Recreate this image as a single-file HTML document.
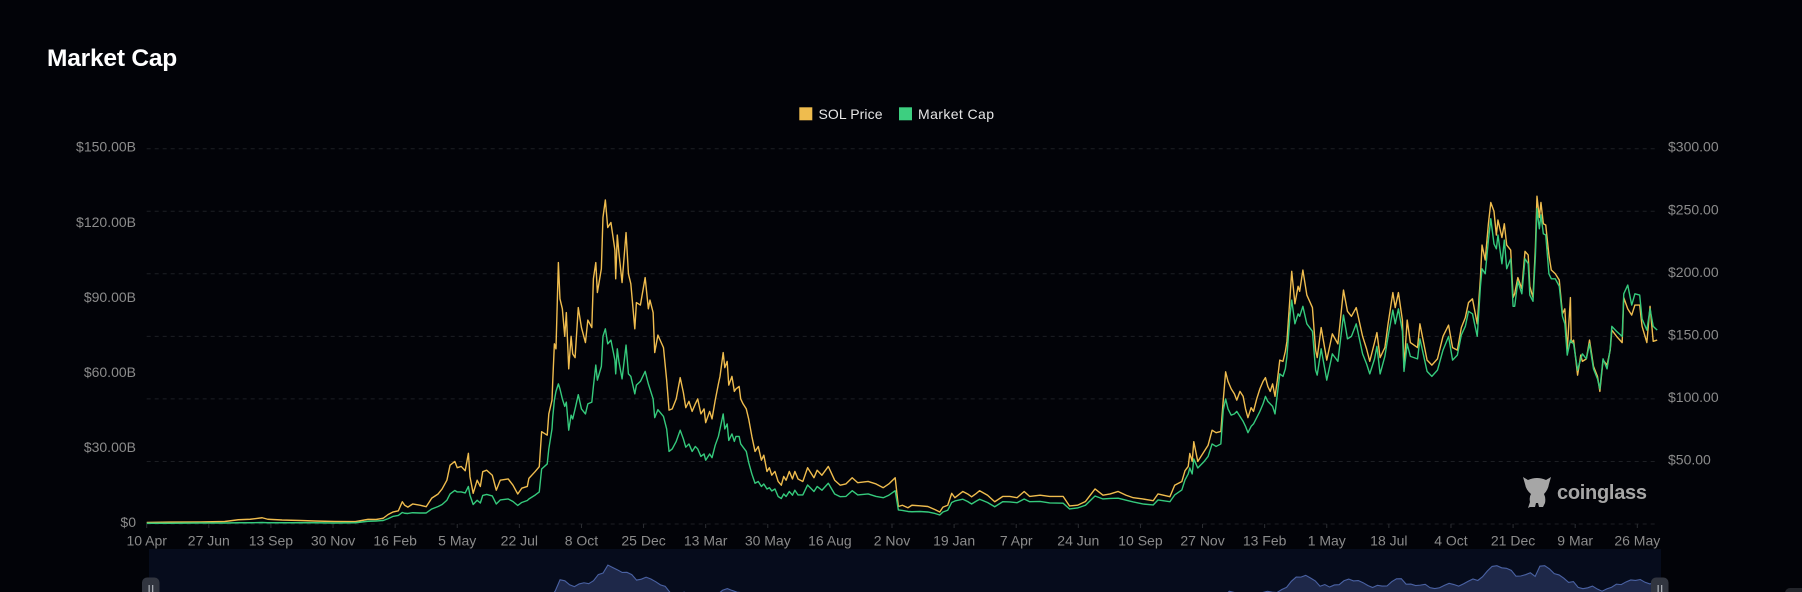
<!DOCTYPE html>
<html lang="en">
<head>
<meta charset="utf-8">
<title>Market Cap</title>
<style>
html,body{margin:0;padding:0;background:#020308;width:1802px;height:592px;overflow:hidden}
#chart-root{position:relative;width:1802px;height:592px;background:#020308;font-family:"Liberation Sans",sans-serif;overflow:hidden}
#chart-title{position:absolute;left:47px;top:44px;font-size:24.5px;line-height:30px;font-weight:bold;color:#fff;letter-spacing:-.2px}
svg{position:absolute;left:0;top:0}
text{font-family:"Liberation Sans",sans-serif}
</style>
</head>
<body>
<div id="chart-root">
  <div id="chart-title">Market Cap</div>
  <svg id="plot" width="1802" height="592" viewBox="0 0 1802 592">
    <g id="grid"></g>
    <g id="left-axis"></g>
    <g id="right-axis"></g>
    <g id="x-axis"></g>
    <g id="series"></g>
    <g>
      <g>
        <rect x="799.3" y="107.3" width="13" height="13" fill="#efbc4e"></rect>
        <text x="818.5" y="118.8" font-size="14" fill="#e6e6e6" textLength="64">SOL Price</text>
      </g>
      <g>
        <rect x="899" y="107.3" width="13" height="13" fill="#3dcf80"></rect>
        <text x="918" y="118.8" font-size="14" fill="#e6e6e6" textLength="76">Market Cap</text>
      </g>
    </g>
    <g>
      <path fill="#a6a6a6" d="M1523 477 L1528 480 Q1537 476 1546 480 L1551 477 L1549 484 Q1548 490 1544 494 Q1546 498 1545 503 L1543 507 L1539 507 L1538 503 L1536 503 L1535 507 L1530 507 L1528 508 L1530 502 Q1529 497 1531 494 Q1526 490 1525 484 Z"></path>
      <text x="1557" y="499" font-size="20" font-weight="bold" fill="#a6a6a6" textLength="90">coinglass</text>
    </g>
    <g id="navigator"></g>
    <rect x="1785" y="588" width="24" height="20" rx="5" fill="#23252b"></rect>
  </svg>
</div>
<script>
var sampleDays = [
0,29,67,98,115,130,145,152,170,193,
211,236,262,270,278,288,297,303,309,316,
321,324,328,334,343,351,358,366,371,377,
381,387,390,395,400,404,406,410,415,419,
422,427,434,439,444,454,460,466,471,478,
480,488,493,496,503,505,509,510,512,514,
517,519,522,525,527,530,533,535,538,542,
546,551,554,559,561,564,566,571,573,576,
579,583,588,589,591,593,597,602,605,608,
613,615,620,626,630,632,636,638,642,649,
653,656,660,665,670,674,677,681,685,689,
692,696,700,702,707,710,714,718,720,724,
726,729,731,735,738,740,744,746,749,753,
756,760,764,768,772,775,779,782,785,789,
793,797,800,803,807,811,814,818,
824,830,838,842,848,856,864,871,878,886,
893,906,916,925,932,940,944,949,956,961,
971,981,990,996,1000,1006,1011,1015,1025,1031,
1036,1041,1046,1056,1065,1075,1084,1093,1102,1109,
1122,1134,1151,1159,1169,1179,1191,1201,1210,1220,
1230,1239,1251,1264,1270,1285,1291,1300,1304,1308,
1310,1313,1315,1320,1328,1333,1338,1343,1349,1352,
1355,1358,1362,1366,1369,1373,1377,1380,1383,1387,
1390,1394,1398,1402,1405,1408,1411,1414,1417,1420,
1423,1427,1430,
1432,1436,1438,1442,1446,1448,1452,1457,1464,1468,
1470,1475,1482,1489,1496,1503,1508,1513,1519,1527,
1532,1536,1542,1545,1549,1555,1559,1565,1568,1572,
1577,1579,1583,1587,1596,1599,1608,1614,1621,1628,
1635,1640,1646,1651,1656,1660,1665,1671,1675,1677,
1681,1685,1688,1692,1695,1697,1702,1705,1708,1713,
1716,1718,1722,1727,1731,1735,1737,1741,1744,1746,
1749,1751,1754,1757,1761,1764,1769,1774,1778,1781,
1784,1788,1789,1792,1797,1801,1803,1808,1812,1817,
1822,1825,1829,1834,1838,1840,1846,1853,1855,1860,
1865,1869,1875,1878,1884,1888,1892,1897
];
var solPrice = [
1.2,1.5,1.6,2.0,3.4,3.8,5.0,3.8,3.2,2.8,
2.4,2.0,1.9,2.8,3.7,3.6,4.6,7.5,9.5,10.5,
17.8,15,13.5,16,15,13.8,20.7,24,28,35,
47,50,45,46,42.6,56.5,37.8,24.5,35,30,
41.8,43,39,27,35,36,31,24,28.6,30,
36.5,42,45.8,73.8,71,88,99,115,144,140,
209,180,172,150,169,124,150,136,133,173,
157,145,163,157,196,209,185,204,245,259,
237,241,219,196,231,217,193,233,200,192,
156,177,175,197,172,179,169,137,151,141,
115,91,92,100,117,105,93,98,90,96,
100,88,92,81,90,84,99,112,118,137,
125,130,111,118,106,108,110,100,96,92,
84,70,58,62,51,55,42,45,39,42,
34,31,38,35,42,36,42,36,
34,45,37,43,39,46,35,31,32,37,
33,34,32,29,32,37,14,15,13,15,
14.5,14,11.5,9.6,13.5,15,24.5,21,26,24,
21.7,24,26.6,23,17.8,22,22,21,26,22,
23,22,22,14.4,15,18,28,23,24,26,
23,21,20,18.6,24,21.8,31,34,42.6,46,
56.4,50,65.8,50,58,63,75,73,74,99,
121.6,114,108,104,99,106,102,92,85,93,
90,100,108,114,117,110,106,112,102,115,
131,130,138,
146,183,202,176,190,186,203,183,173,139,
133,157,131,152,144,187,170,166,173,150,
140,130,145,153,133,141,160,185,173,185,
163,125,163,145,141,160,131,127,132,150,
159,141,139,157,165,177,180,160,197,223,
211,240,257,250,231,243,229,240,223,219,
181,184,197,188,218,215,190,181,221,262,
245,257,240,239,215,203,200,195,168,172,
139,181,145,147,119,135,130,132,147,126,
118,106,131,127,139,155,150,145,181,172,
167,175,175,158,145,174,146,147
];
var marketCap = [
0.3,0.3,0.4,0.4,0.5,0.5,0.6,0.5,0.5,0.5,
0.5,0.4,0.5,0.8,1.1,1.2,1.4,2.1,3.0,3.4,
4.6,4.3,4.2,4.5,4.4,4.4,6,7,7.8,9.5,
12,13.4,12.8,12.8,12.4,15,11.5,7.8,9.5,8.4,
11.4,11.8,11.2,8,9.6,10,9,7.4,8.6,9.4,
10,11.6,12.8,22,24,30,38,43,49.5,53,
56,54,50,47,48.7,37.5,43.5,42,46,51.7,
46,44,48,48.7,55,63.5,57.5,63,75,78,
72,73.5,65.5,60,70,65,58,71.5,60,59,
52,55.5,57,61,56,54,50,42.5,45.7,43,
38,29,30,33,37.5,34,30.7,32,29,31,
30,27,28,25.5,28,26.5,31.5,35,38,44,
38,40,33.4,36,33,35,35,32,30.7,29,
24.6,20,16.3,17,15,16,14,14.5,13.2,14,
11,10.2,12,11,13,11.5,13.5,11.6,
11.6,15.6,13,15,13.5,16.3,12,10.9,11,13.3,
11.6,12,11,10.5,11.5,13.3,5.6,5.4,5,4.9,
5,4.8,4.2,3.6,4.8,5.5,8.6,9.2,9.9,9,
8,9,9.9,8.6,6.9,8.9,8.8,8.5,10,8.9,
9,8.4,8.3,6,6.4,7.5,11.2,10,10.2,10.3,
9.5,8.8,8,7.6,9.6,8.9,11.6,13.6,17.6,20,
22.4,20,26,22.4,25,27,32,31,32,45.5,
50,46,43.5,44,45,43,41,39,36.5,39,
40,42.5,45,48,51,49,48,47,44,52,
60,59,62,
67,84,89.5,80,84,83,87,80,77,61.5,
59.5,70,57.5,68,65,83.5,74,75,80,68,
64,60,66,71,60,67,75,85.5,80,86,
77,61,72,67,66,74,61,59,61.5,69.5,
75,65.5,67.5,75.5,79,85,84,75,95,102,
100,113.5,122,112,110,115.5,104,113.5,102,106,
87,87,97,92,106,104,91.5,89,107,126,
118,123.5,116,115.5,100,98,98,95,83,80,
67.5,73.5,73,72,61.5,66,68,66,72,62,
58,54,66,62,70,79,77,75,92,95.5,
87.5,92,91.5,82,77.5,86,79,77.5
];
var xTickLabels = ["10 Apr","27 Jun","13 Sep","30 Nov","16 Feb","5 May","22 Jul","8 Oct","25 Dec","13 Mar","30 May","16 Aug","2 Nov","19 Jan","7 Apr","24 Jun","10 Sep","27 Nov","13 Feb","1 May","18 Jul","4 Oct","21 Dec","9 Mar","26 May"];
var leftTicks = [0,30,60,90,120,150];
var leftTickLabels = ["$0","$30.00B","$60.00B","$90.00B","$120.00B","$150.00B"];
var rightTicks = [50,100,150,200,250,300];
var rightTickLabels = ["$50.00","$100.00","$150.00","$200.00","$250.00","$300.00"];
var gridTicks = [0,50,100,150,200,250,300];
var xTickStepDays = 78;
var totalDays = 1898;

var NS = 'http://www.w3.org/2000/svg';
var plotLeft = 146.7, plotRight = 1658, plotTop = 148.7, plotBottom = 524;
function xScale(day){ return plotLeft + day / totalDays * (plotRight - plotLeft); }
function yPrice(v){ return plotBottom - v / 300 * (plotBottom - plotTop); }
function yCap(v){ return plotBottom - v / 150 * (plotBottom - plotTop); }
var navLeft = 149, navRight = 1661;
function navX(day){ return navLeft + day / totalDays * (navRight - navLeft); }
function navY(v){ return 613.3 - 0.193 * v; }

function mk(tag, parent, attrs){
  var el = document.createElementNS(NS, tag);
  for (var k in attrs) el.setAttribute(k, attrs[k]);
  parent.appendChild(el);
  return el;
}

var gridG = document.getElementById('grid');
gridTicks.forEach(function(v){
  var ln = mk('line', gridG, {x1: plotLeft, x2: plotRight, y1: yPrice(v), y2: yPrice(v), stroke: '#1d1f24', 'stroke-width': 1, 'stroke-dasharray': '4 4'});
  
  
});

var leftG = document.getElementById('left-axis');
leftTicks.forEach(function(v, i){
  var t = mk('text', leftG, {x: 136, y: yCap(v) + 3, 'text-anchor': 'end', 'font-size': 14, fill: '#8b8b8b'});
  t.textContent = leftTickLabels[i];
  
  
});

var rightG = document.getElementById('right-axis');
rightTicks.forEach(function(v, i){
  var t = mk('text', rightG, {x: 1668, y: yPrice(v) + 3, 'text-anchor': 'start', 'font-size': 14, fill: '#8b8b8b'});
  t.textContent = rightTickLabels[i];
  
  
});

var xG = document.getElementById('x-axis');
xTickLabels.forEach(function(lbl, i){
  var x = xScale(i * xTickStepDays);
  var tick = mk('line', xG, {x1: x, x2: x, y1: plotBottom, y2: plotBottom + 4, stroke: '#2c2e33', 'stroke-width': 1});
  
  
  var t = mk('text', xG, {x: x, y: 545.5, 'text-anchor': 'middle', 'font-size': 14, fill: '#8b8b8b'});
  t.textContent = lbl;
  
  
});

function linePath(values, fx, fy){
  var d = '';
  for (var i = 0; i < values.length; i++) {
    d += (i ? 'L' : 'M') + fx(sampleDays[i]).toFixed(2) + ' ' + fy(values[i]).toFixed(2);
  }
  return d;
}

var seriesG = document.getElementById('series');
var priceLine = mk('path', seriesG, {d: linePath(solPrice, xScale, yPrice), fill: 'none', stroke: '#efbc4e', 'stroke-width': 1.4, 'stroke-linejoin': 'round'});


var capLine = mk('path', seriesG, {d: linePath(marketCap, xScale, yCap), fill: 'none', stroke: '#35c97c', 'stroke-width': 1.4, 'stroke-linejoin': 'round'});



/* navigator shows a down-sampled view of the price series */
function priceAt(day){
  for (var i = 1; i < sampleDays.length; i++) {
    if (day <= sampleDays[i]) {
      var t = (day - sampleDays[i-1]) / (sampleDays[i] - sampleDays[i-1]);
      return solPrice[i-1] + t * (solPrice[i] - solPrice[i-1]);
    }
  }
  return solPrice[solPrice.length - 1];
}
var navPath = '';
for (var nd = 0; nd <= sampleDays[sampleDays.length - 1]; nd += 6) {
  var navVal = (priceAt(nd - 3) + priceAt(nd) * 2 + priceAt(nd + 3)) / 4;
  navPath += (nd ? 'L' : 'M') + navX(nd).toFixed(2) + ' ' + navY(navVal).toFixed(2);
}

var navG = document.getElementById('navigator');
var navBg = mk('rect', navG, {x: navLeft, y: 549, width: navRight - navLeft, height: 43, fill: '#060c1c'});


var navArea = mk('path', navG, {d: navPath + 'L' + navRight + ' 600L' + navLeft + ' 600Z', fill: '#1e2849'});


var navStroke = mk('path', navG, {d: navPath, fill: 'none', stroke: '#4a62a3', 'stroke-width': 1.1});



[[142, 'navigator-handle-left'], [1651, 'navigator-handle-right']].forEach(function(h){
  var g = mk('g', navG, {});
  
  
  mk('rect', g, {x: h[0], y: 577.5, width: 17.5, height: 26, rx: 5, fill: '#31353f'});
  mk('rect', g, {x: h[0] + 6.5, y: 585, width: 1.3, height: 8, fill: '#a8abb2'});
  mk('rect', g, {x: h[0] + 10, y: 585, width: 1.3, height: 8, fill: '#a8abb2'});
});
</script>
</body>
</html>
